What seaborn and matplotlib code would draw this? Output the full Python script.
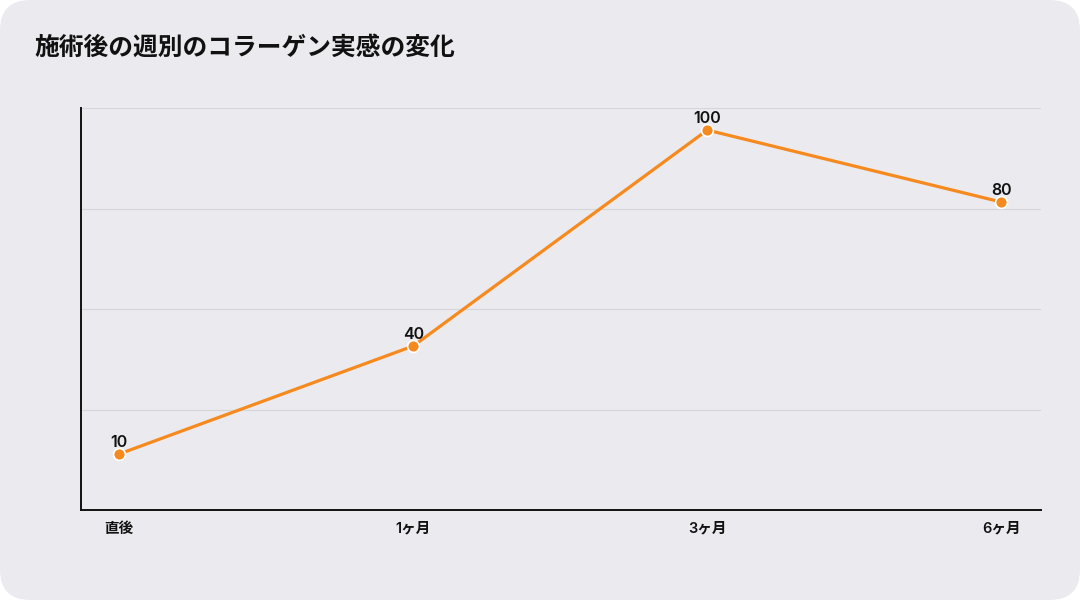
import matplotlib
matplotlib.use('Agg')
import matplotlib.pyplot as plt
from matplotlib.patches import FancyBboxPatch
import seaborn as sns
import pandas as pd
import numpy as np

# データ
periods = ['直後', '1ヶ月', '3ヶ月', '6ヶ月']
collagen = [10, 40, 100, 80]
title = '施術後の週別のコラーゲン実感の変化'

bg = '#ebeaef'
orange = '#f68a1e'

sns.set_theme(style='white')
plt.rcParams['font.family'] = ['Inter', 'Noto Sans CJK JP', 'DejaVu Sans']

df = pd.DataFrame({'period': periods, 'value': collagen})
df['pos'] = range(len(df))

fig = plt.figure(figsize=(10.8, 6), dpi=100, facecolor='white')
# 角丸の背景カード
card = FancyBboxPatch((0, 0), 1, 1,
                      boxstyle='round,pad=0,rounding_size=0.028',
                      transform=fig.transFigure, facecolor=bg, edgecolor='none',
                      mutation_aspect=1.8, zorder=-10)
fig.patches.append(card)

ax = fig.add_axes([0.075, 0.1492, 0.8889, 0.67])
ax.set_facecolor(bg)

sns.lineplot(data=df, x='pos', y='value', ax=ax, color=orange, linewidth=2.3,
             marker='o', markersize=8.5, markeredgecolor='white', markeredgewidth=1.2)

for x, y in zip(df['pos'], df['value']):
    ax.annotate(str(y), (x, y), xytext=(0, 3), textcoords='offset points',
                ha='center', va='bottom', fontsize=11.5, fontweight='semibold', color='#111111')

ax.set_xlim(-0.13, 3.135)
ax.set_ylim(-5.7, 106)
ax.set_yticks(np.linspace(-5.7, 106, 5))
ax.set_yticklabels([])
ax.yaxis.grid(True, color='#d6d6da', linewidth=0.8)
ax.xaxis.grid(False)
ax.set_xticks(df['pos'])
ax.set_xticklabels(periods, fontsize=10.5, fontweight='semibold', color='#111111')
ax.tick_params(axis='x', length=0, pad=8)
ax.tick_params(axis='y', length=0)
ax.set_xlabel('')
ax.set_ylabel('')

for s in ['top', 'right']:
    ax.spines[s].set_visible(False)
for s in ['left', 'bottom']:
    ax.spines[s].set_color('#111111')
    ax.spines[s].set_linewidth(1.4)

fig.text(0.032, 0.921, title, fontsize=17.8, fontweight='bold', color='#111111',
         ha='left', va='center')

fig.savefig('out.png', dpi=100, facecolor='white')
